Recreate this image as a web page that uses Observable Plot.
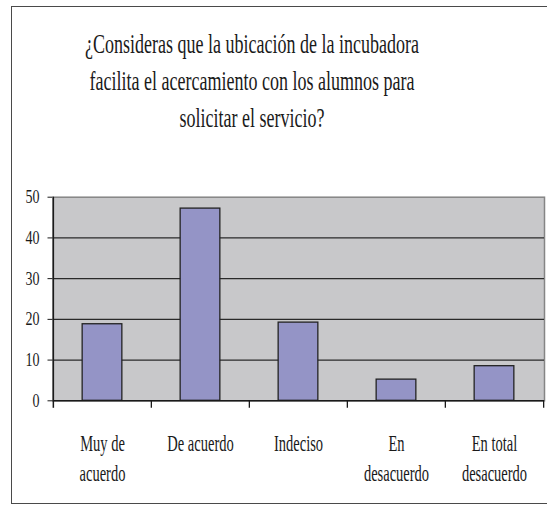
<!DOCTYPE html>
<html>
<head>
<meta charset="utf-8">
<script src="https://cdn.jsdelivr.net/npm/d3@7"></script>
<script src="https://cdn.jsdelivr.net/npm/@observablehq/plot@0.6"></script>
<style>
  html, body { margin: 0; padding: 0; background: #fff; }
  #page {
    position: relative; width: 547px; height: 506px; overflow: hidden;
    font-family: "Liberation Serif", Tinos, "Times New Roman", Times, "DejaVu Serif", serif; color: #1a1a1a;
  }
  #box {
    position: absolute; left: 11px; top: 6px; width: 560px; height: 498px;
    border: 1.5px solid #4a4a4a; box-sizing: border-box;
  }
  #title {
    position: absolute; left: 0; top: 26.4px; width: 504px;
    text-align: center; font-size: 27px; line-height: 37px; white-space: nowrap;
    transform: scaleX(0.667); transform-origin: 252px 0;
  }
  #chart { position: absolute; left: 0; top: 150px; }
</style>
</head>
<body>
<div id="page">
  <div id="box"></div>
  <div id="title"></div>
  <div id="chart"></div>
</div>
<script>
// Survey question and answers
const titleLines = [
  "¿Consideras que la ubicación de la incubadora",
  "facilita el acercamiento con los alumnos para",
  "solicitar el servicio?"
];
const categories = ["Muy de acuerdo", "De acuerdo", "Indeciso", "En desacuerdo", "En total desacuerdo"];
const tickLabels = ["Muy de\nacuerdo", "De acuerdo", "Indeciso", "En\ndesacuerdo", "En total\ndesacuerdo"];
const values = [18.8, 47.2, 19.2, 5.2, 8.5];
const yTicks = [0, 10, 20, 30, 40, 50];

const serif = "'Liberation Serif', Tinos, 'Times New Roman', Times, 'DejaVu Serif', serif";

// Title block (narrow serif lettering)
const titleEl = document.getElementById("title");
titleLines.forEach(line => {
  const div = document.createElement("div");
  div.textContent = line;
  titleEl.appendChild(div);
});

const W = 547, H = 356;
const M = {top: 46.7, right: 3, bottom: 105.7, left: 52.5};
const bw = (W - M.left - M.right) / categories.length;
const barWidth = 40;
const inset = (bw - barWidth) / 2;
const tickLen = 7.5;

const data = categories.map((c, i) => ({category: c, value: values[i], label: tickLabels[i]}));
const last = categories[categories.length - 1];

const chart = Plot.plot({
  width: W,
  height: H,
  marginTop: M.top,
  marginRight: M.right,
  marginBottom: M.bottom,
  marginLeft: M.left,
  style: {
    fontFamily: serif,
    fontSize: "18.5px",
    color: "#1a1a1a",
    background: "transparent",
    overflow: "visible"
  },
  x: {domain: categories, padding: 0, axis: null},
  y: {domain: [0, 50], ticks: yTicks, tickSize: 5, tickPadding: 8.5, label: null},
  marks: [
    // plot area
    Plot.frame({fill: "#c8c8ca", stroke: "#858585", strokeWidth: 1.5}),
    // horizontal gridlines
    Plot.ruleY(yTicks.filter(t => t > 0 && t < 50), {stroke: "#2a2a2a", strokeWidth: 1.3}),
    // bars
    Plot.barY(data, {
      x: "category", y: "value",
      fill: "#9494c6", stroke: "#222", strokeWidth: 1.3,
      insetLeft: inset, insetRight: inset
    }),
    // category axis line
    Plot.ruleY([0], {stroke: "#1a1a1a", strokeWidth: 1.5}),
    // value axis line, extended into the first category tick
    Plot.ruleX([categories[0]], {x: d => d, dx: -bw / 2, y1: 50, y2: 0, insetBottom: -tickLen, stroke: "#1a1a1a", strokeWidth: 1.5}),
    // category boundary ticks
    Plot.ruleX(categories.slice(1), {x: d => d, dx: -bw / 2, y1: 0, y2: 0, insetBottom: -tickLen, stroke: "#1a1a1a", strokeWidth: 1.3}),
    Plot.ruleX([last], {x: d => d, dx: bw / 2, y1: 0, y2: 0, insetBottom: -tickLen, stroke: "#1a1a1a", strokeWidth: 1.3}),
    // category labels
    Plot.text(data, {
      x: "category", frameAnchor: "bottom", text: "label",
      lineAnchor: "top", lineHeight: 1.33, dy: 28.7,
      fontSize: 22.5, fill: "#1a1a1a", fontFamily: serif
    })
  ]
});

document.getElementById("chart").appendChild(chart);

// Narrow the serif lettering horizontally around each label's anchor
chart.querySelectorAll("text").forEach(t => {
  const sx = t.closest('g[aria-label="text"]') ? 0.645 : 0.76;
  const b = t.getBBox();
  const anchor = getComputedStyle(t).textAnchor;
  const px = anchor === "end" ? b.x + b.width : anchor === "middle" ? b.x + b.width / 2 : b.x;
  const prev = t.getAttribute("transform") || "";
  t.setAttribute("transform", `${prev} translate(${px},0) scale(${sx},1) translate(${-px},0)`.trim());
});
</script>
</body>
</html>
